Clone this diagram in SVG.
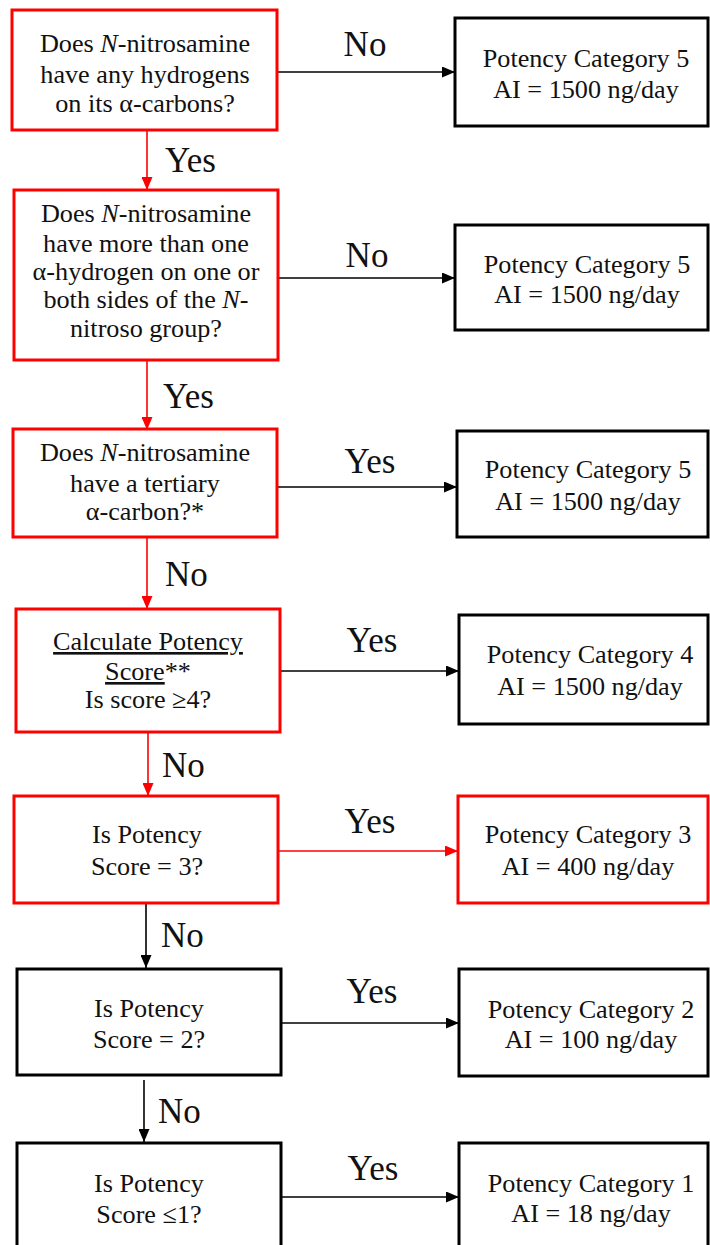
<svg xmlns="http://www.w3.org/2000/svg" width="710" height="1245" viewBox="0 0 710 1245">
<style>
.box{fill:#fff;stroke-width:3}
.r{stroke:#ff0000}
.k{stroke:#000}
text{font-family:"Liberation Serif","Times New Roman","DejaVu Serif",serif;fill:#111}
.t{font-size:26.2px;text-anchor:middle}
.l{font-size:35px}
.lc{font-size:35px;text-anchor:middle}
.i{font-style:italic}
.u{text-decoration:underline}
.cr{stroke:#ff0000;stroke-width:1.6;fill:none;marker-end:url(#ar)}
.ck{stroke:#000;stroke-width:1.6;fill:none;marker-end:url(#ak)}
</style>
<defs>
<marker id="ak" markerUnits="userSpaceOnUse" markerWidth="13" markerHeight="11" refX="13" refY="5.5" orient="auto"><path d="M0,0 L13,5.5 L0,11 z" fill="#000"/></marker>
<marker id="ar" markerUnits="userSpaceOnUse" markerWidth="13" markerHeight="11" refX="13" refY="5.5" orient="auto"><path d="M0,0 L13,5.5 L0,11 z" fill="#ff0000"/></marker>
</defs>
<rect width="710" height="1245" fill="#fff"/>
<g id="connectors">
<line class="ck" x1="277" y1="72" x2="455" y2="72"/>
<line class="cr" x1="147" y1="130" x2="147" y2="190"/>
<line class="ck" x1="278" y1="278" x2="455" y2="278"/>
<line class="cr" x1="147" y1="360" x2="147" y2="430"/>
<line class="ck" x1="277" y1="487" x2="457" y2="487"/>
<line class="cr" x1="147" y1="537" x2="147" y2="609"/>
<line class="ck" x1="280" y1="671" x2="459" y2="671"/>
<line class="cr" x1="148" y1="732" x2="148" y2="796"/>
<line class="cr" x1="278" y1="851" x2="458" y2="851"/>
<line class="ck" x1="146" y1="903" x2="146" y2="968"/>
<line class="ck" x1="281" y1="1023" x2="459" y2="1023"/>
<line class="ck" x1="144" y1="1080" x2="144" y2="1142"/>
<line class="ck" x1="281" y1="1197" x2="459" y2="1197"/>
<text class="lc" x="365" y="56">No</text>
<text class="l" x="165" y="172">Yes</text>
<text class="lc" x="367" y="267">No</text>
<text class="l" x="163" y="408">Yes</text>
<text class="lc" x="370" y="473">Yes</text>
<text class="l" x="165" y="586">No</text>
<text class="lc" x="372" y="652">Yes</text>
<text class="l" x="162" y="777">No</text>
<text class="lc" x="370" y="833">Yes</text>
<text class="l" x="161" y="947">No</text>
<text class="lc" x="372" y="1003">Yes</text>
<text class="l" x="158" y="1123">No</text>
<text class="lc" x="373" y="1180">Yes</text>
</g>
<g id="q1">
<rect class="box r" x="12" y="10" width="265" height="120"/>
<text class="t" x="145" y="52">Does <tspan class="i">N</tspan>-nitrosamine</text>
<text class="t" x="145" y="83">have any hydrogens</text>
<text class="t" x="145" y="112">on its α-carbons?</text>
</g>
<g id="q2">
<rect class="box r" x="14" y="190" width="264" height="170"/>
<text class="t" x="146" y="222">Does <tspan class="i">N</tspan>-nitrosamine</text>
<text class="t" x="146" y="252">have more than one</text>
<text class="t" x="146" y="280">α-hydrogen on one or</text>
<text class="t" x="146" y="308">both sides of the <tspan class="i">N</tspan>-</text>
<text class="t" x="146" y="337">nitroso group?</text>
</g>
<g id="q3">
<rect class="box r" x="13" y="429" width="264" height="108"/>
<text class="t" x="145" y="461">Does <tspan class="i">N</tspan>-nitrosamine</text>
<text class="t" x="145" y="492">have a tertiary</text>
<text class="t" x="145" y="520">α-carbon?*</text>
</g>
<g id="q4">
<rect class="box r" x="16" y="609" width="264" height="123"/>
<text class="t" x="148" y="650"><tspan class="u">Calculate Potency</tspan></text>
<text class="t" x="148" y="680"><tspan class="u">Score</tspan>**</text>
<text class="t" x="148" y="708">Is score ≥4?</text>
</g>
<g id="q5">
<rect class="box r" x="14" y="796" width="264" height="107"/>
<text class="t" x="147" y="843">Is Potency</text>
<text class="t" x="147" y="875">Score = 3?</text>
</g>
<g id="q6">
<rect class="box k" x="17" y="969" width="264" height="106"/>
<text class="t" x="149" y="1017">Is Potency</text>
<text class="t" x="149" y="1048">Score = 2?</text>
</g>
<g id="q7">
<rect class="box k" x="17" y="1143" width="264" height="120"/>
<text class="t" x="149" y="1192">Is Potency</text>
<text class="t" x="149" y="1223">Score ≤1?</text>
</g>
<g id="c5a">
<rect class="box k" x="455" y="18" width="253" height="108"/>
<text class="t" x="586" y="67">Potency Category 5</text>
<text class="t" x="586" y="98">AI = 1500 ng/day</text>
</g>
<g id="c5b">
<rect class="box k" x="455" y="225" width="253" height="105"/>
<text class="t" x="587" y="273">Potency Category 5</text>
<text class="t" x="587" y="303">AI = 1500 ng/day</text>
</g>
<g id="c5c">
<rect class="box k" x="457" y="431" width="251" height="106"/>
<text class="t" x="588" y="478">Potency Category 5</text>
<text class="t" x="588" y="510">AI = 1500 ng/day</text>
</g>
<g id="c4">
<rect class="box k" x="459" y="615" width="249" height="109"/>
<text class="t" x="590" y="663">Potency Category 4</text>
<text class="t" x="590" y="695">AI = 1500 ng/day</text>
</g>
<g id="c3">
<rect class="box r" x="458" y="796" width="250" height="107"/>
<text class="t" x="588" y="843">Potency Category 3</text>
<text class="t" x="588" y="875">AI = 400 ng/day</text>
</g>
<g id="c2">
<rect class="box k" x="459" y="969" width="249" height="107"/>
<text class="t" x="591" y="1018">Potency Category 2</text>
<text class="t" x="591" y="1048">AI = 100 ng/day</text>
</g>
<g id="c1">
<rect class="box k" x="459" y="1143" width="249" height="120"/>
<text class="t" x="591" y="1192">Potency Category 1</text>
<text class="t" x="591" y="1222">AI = 18 ng/day</text>
</g>
</svg>
